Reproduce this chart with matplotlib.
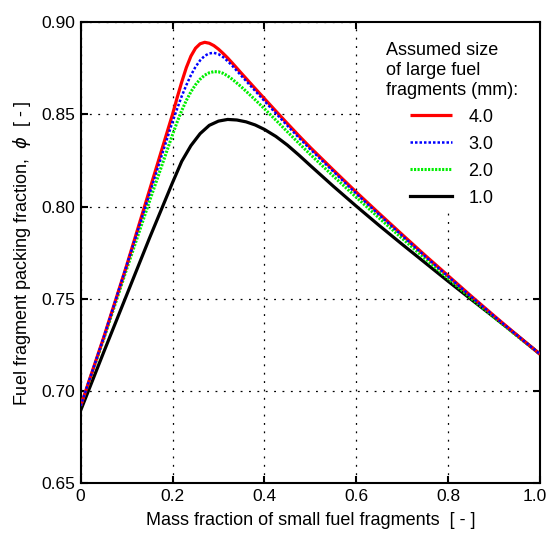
import matplotlib
matplotlib.use("Agg")
import matplotlib.pyplot as plt
import matplotlib.transforms as mtransforms
from matplotlib.patches import Rectangle

plt.rcParams['font.family'] = ['Liberation Sans', 'DejaVu Sans']
plt.rcParams['mathtext.fontset'] = 'dejavusans'

# Packing fraction vs. mass fraction of small fragments, one curve per large-fragment size
sizes = ["4.0", "3.0", "2.0", "1.0"]

x_4mm = [0.00, 0.05, 0.10, 0.15, 0.20, 0.21, 0.22, 0.23, 0.24, 0.25, 0.26, 0.27, 0.28, 0.29,
         0.30, 0.31, 0.32, 0.33, 0.35, 0.375, 0.40, 0.425, 0.45, 0.475, 0.50, 0.55, 0.60,
         0.65, 0.70, 0.75, 0.80, 0.85, 0.90, 0.95, 1.00]
y_4mm = [0.692, 0.729, 0.768, 0.809, 0.850, 0.859, 0.8675, 0.8753, 0.8815, 0.8858, 0.8882, 0.889, 0.8885, 0.8872,
         0.8853, 0.8830, 0.8805, 0.8778, 0.8722, 0.8653, 0.8585, 0.8517, 0.8450, 0.8384, 0.8320, 0.8198, 0.8078,
         0.7962, 0.7848, 0.7735, 0.7625, 0.7515, 0.7408, 0.7303, 0.7200]

x_3mm = [0.00, 0.05, 0.10, 0.15, 0.20, 0.21, 0.22, 0.23, 0.24, 0.25, 0.26, 0.27, 0.28, 0.29,
         0.30, 0.31, 0.32, 0.33, 0.35, 0.375, 0.40, 0.425, 0.45, 0.475, 0.50, 0.55, 0.60,
         0.65, 0.70, 0.75, 0.80, 0.85, 0.90, 0.95, 1.00]
y_3mm = [0.692, 0.729, 0.768, 0.807, 0.846, 0.853, 0.8598, 0.8658, 0.8712, 0.8757, 0.8792, 0.8817, 0.8830, 0.8833,
         0.8826, 0.8810, 0.8788, 0.8763, 0.8708, 0.8640, 0.8572, 0.8505, 0.8438, 0.8373, 0.8310, 0.8190, 0.8070,
         0.7955, 0.7842, 0.7730, 0.7621, 0.7512, 0.7406, 0.7302, 0.7200]

x_2mm = [0.00, 0.05, 0.10, 0.15, 0.20, 0.21, 0.22, 0.23, 0.24, 0.25, 0.26, 0.27, 0.28, 0.29,
         0.30, 0.31, 0.32, 0.33, 0.35, 0.375, 0.40, 0.425, 0.45, 0.475, 0.50, 0.55, 0.60,
         0.65, 0.70, 0.75, 0.80, 0.85, 0.90, 0.95, 1.00]
y_2mm = [0.692, 0.728, 0.766, 0.803, 0.839, 0.8458, 0.8520, 0.8575, 0.8622, 0.8660, 0.8690, 0.8712, 0.8725, 0.8731,
         0.8730, 0.8722, 0.8708, 0.8690, 0.8648, 0.8590, 0.8530, 0.8468, 0.8405, 0.8343, 0.8282, 0.8165, 0.8050,
         0.7937, 0.7827, 0.7718, 0.7610, 0.7503, 0.7400, 0.7298, 0.7200]

x_1mm = [0.00, 0.05, 0.10, 0.15, 0.175, 0.20, 0.22, 0.24, 0.26, 0.28, 0.30, 0.32, 0.34, 0.36,
         0.38, 0.40, 0.425, 0.45, 0.475, 0.50, 0.55, 0.60, 0.65, 0.70, 0.75, 0.80, 0.85,
         0.90, 0.95, 1.00]
y_1mm = [0.6895, 0.721, 0.752, 0.783, 0.798, 0.8130, 0.8245, 0.8330, 0.8395, 0.8440, 0.8463, 0.8472, 0.8469, 0.8459,
         0.8442, 0.8418, 0.8380, 0.8333, 0.8279, 0.8222, 0.8110, 0.8002, 0.7897, 0.7795, 0.7695, 0.7595, 0.7497,
         0.7400, 0.7302, 0.7200]

x_ticks = [0, 0.2, 0.4, 0.6, 0.8, 1.0]
x_tick_labels = ["0", "0.2", "0.4", "0.6", "0.8", "1.0"]
y_ticks = [0.65, 0.70, 0.75, 0.80, 0.85, 0.90]
y_tick_labels = ["0.65", "0.70", "0.75", "0.80", "0.85", "0.90"]

fig = plt.figure(figsize=(5.5, 5.37), dpi=100)
ax = fig.add_axes([0.1467, 0.1, 0.8351, 0.859])

ax.plot(x_4mm, y_4mm, color='#ff0000', lw=2.3, solid_capstyle='butt', solid_joinstyle='round',
        label=sizes[0], zorder=5)
ax.plot(x_3mm, y_3mm, color='#0000ff', lw=1.8, linestyle=(0, (1.0, 0.8)), label=sizes[1], zorder=6)
ax.plot(x_2mm, y_2mm, color='#00ee00', lw=2.2, linestyle=(0, (0.7, 0.45)), label=sizes[2], zorder=4)
ax.plot(x_1mm, y_1mm, color='black', lw=2.3, solid_joinstyle='round', label=sizes[3], zorder=3)

ax.set_xlim(0, 1)
ax.set_ylim(0.65, 0.90)
ax.set_xticks(x_ticks)
ax.set_xticklabels(x_tick_labels)
ax.set_yticks(y_ticks)
ax.set_yticklabels(y_tick_labels)

ax.tick_params(direction='in', length=5, width=1.5, top=True, right=True,
               labelsize=12.5, pad=4, colors='black')
for sp in ax.spines.values():
    sp.set_linewidth(1.5)

# keep the last x tick label inside the figure edge
last = ax.get_xticklabels()[-1]
last.set_transform(last.get_transform() + mtransforms.ScaledTranslation(-4 / 72, 0, fig.dpi_scale_trans))

ax.grid(True, color='black', lw=0.9, linestyle=(0, (1.5, 5.2)))
ax.set_axisbelow(True)

ax.set_xlabel("Mass fraction of small fuel fragments  [ - ]", fontsize=13, labelpad=6)
ax.set_ylabel(r"Fuel fragment packing fraction,  $\phi$  [ - ]", fontsize=13, labelpad=6)

# white legend panel hiding the grid in the upper-right corner
ax.add_patch(Rectangle((0.613, 0.594), 0.387, 0.406, transform=ax.transAxes,
                       facecolor='white', edgecolor='none', zorder=1))

ax.text(0.665, 0.956, "Assumed size\nof large fuel\nfragments (mm):", transform=ax.transAxes,
        ha='left', va='top', fontsize=13, linespacing=1.22, zorder=7)
leg = ax.legend(loc='upper left', bbox_to_anchor=(0.718, 0.812), frameon=False, fontsize=13,
                handlelength=2.3, handletextpad=0.9, labelspacing=0.55, borderpad=0, borderaxespad=0)
leg.set_zorder(7)

fig.savefig("out.png", dpi=100)
